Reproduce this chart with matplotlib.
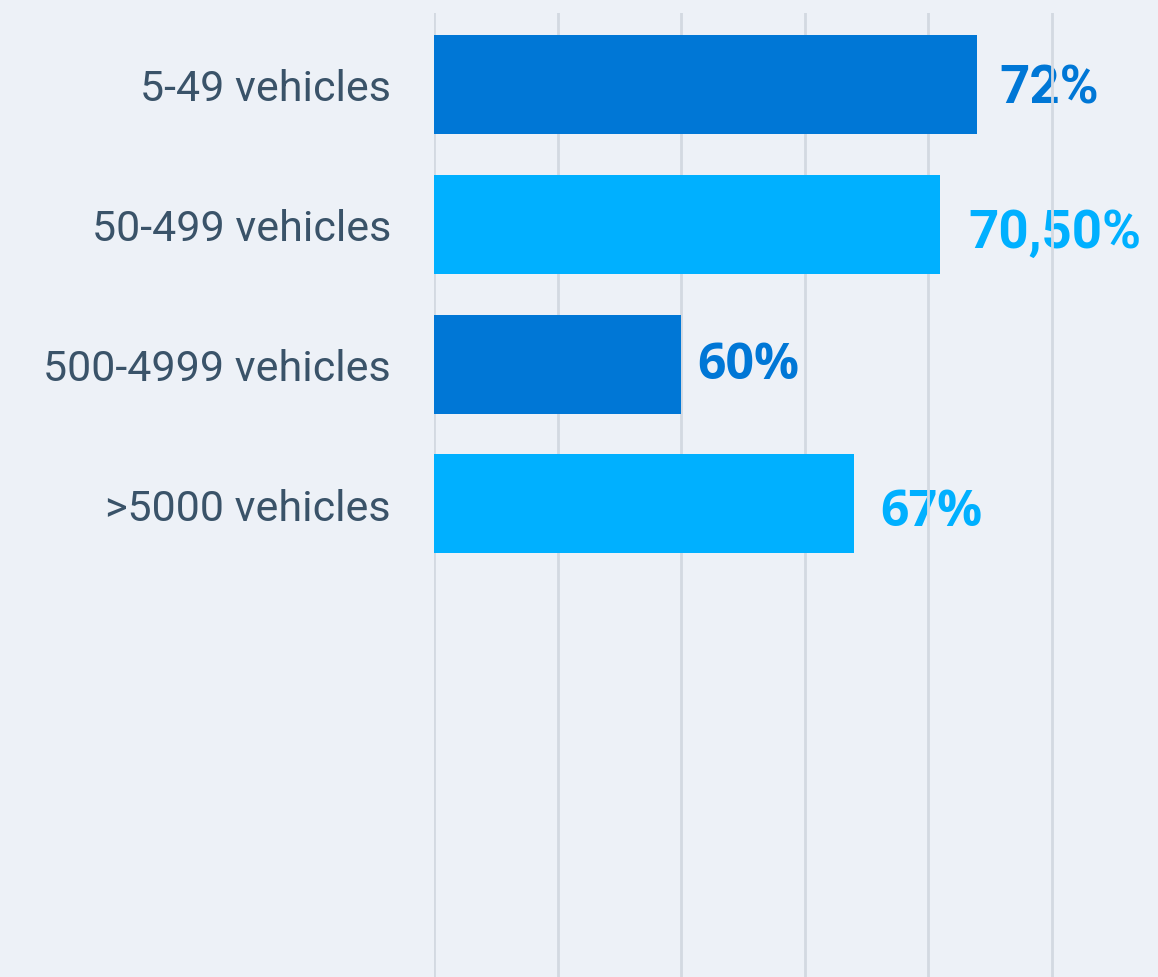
import matplotlib
matplotlib.use("Agg")
import matplotlib.pyplot as plt

# ---- data ----
categories = ["5-49 vehicles", "50-499 vehicles", "500-4999 vehicles", ">5000 vehicles"]
values = [72, 70.5, 60, 67]
value_labels = ["72%", "70,50%", "60%", "67%"]
x_ticks = [50, 55, 60, 65, 70, 75]

# ---- style ----
bg = "#EDF1F7"
dark = "#0077D6"
light = "#00B0FF"
bar_colors = [dark, light, dark, light]
label_fonts = ["Roboto", "Roboto", "Open Sans", "Open Sans"]
label_sizes = [38, 38, 36, 36]
label_gap_px = [22, 28, 16, 26]
label_dy_px = [1, -3.5, 4, -3]
grid_color = "#D3D9E1"
text_color = "#3A5369"

W, H = 1158, 978
fig = plt.figure(figsize=(W / 100, H / 100), dpi=100, facecolor=bg)
left_px, top_px = 434, 14
scale = 24.7  # px per unit
ax = fig.add_axes([left_px / W, 0, (W - left_px) / W, (H - top_px) / H])
ax.set_facecolor(bg)

y = list(range(len(categories)))
base = x_ticks[0]
ax.barh(y, [v - base for v in values], left=base, height=0.708,
        color=bar_colors, zorder=2)

ax.set_xlim(base, base + (W - left_px) / scale)
ax.set_ylim(6.384, -0.511)

ax.set_xticks(x_ticks)
ax.set_xticklabels([])
ax.tick_params(axis="x", length=0)
ax.set_yticks(y)
ax.set_yticklabels(categories, fontsize=31, family="Roboto", color=text_color)
ax.tick_params(axis="y", length=0, pad=31)

ax.set_axisbelow(True)
ax.xaxis.grid(True, color=grid_color, linewidth=2.0)
ax.yaxis.grid(False)
for s in ax.spines.values():
    s.set_visible(False)

for i, (v, lab) in enumerate(zip(values, value_labels)):
    fs = label_sizes[i]
    dx = label_gap_px[i] * 0.72
    dy = -0.711 * fs / 2 + label_dy_px[i] * 0.72
    ax.annotate(lab, xy=(v, i), xytext=(dx, dy),
                textcoords="offset points", ha="left", va="baseline",
                fontsize=fs, fontweight="bold", family=label_fonts[i],
                color=bar_colors[i], zorder=0.3)

fig.savefig("out.png", dpi=100, facecolor=bg)
